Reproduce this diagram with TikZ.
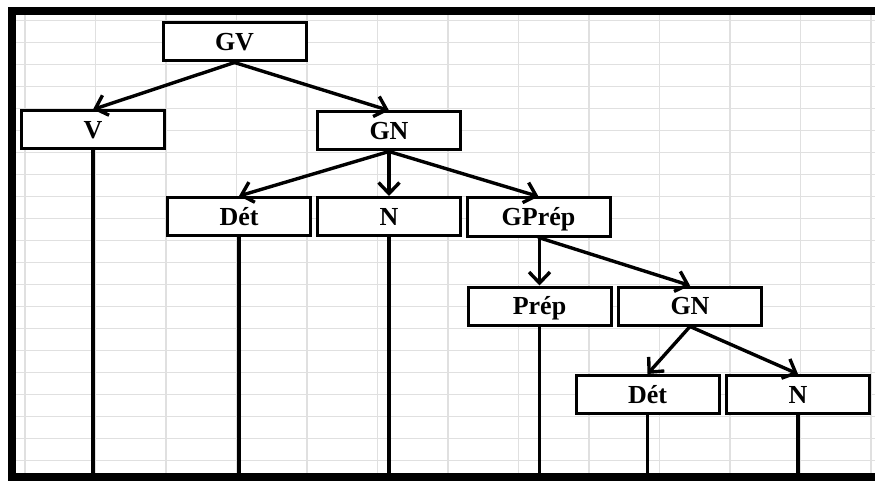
\documentclass[tikz,border=0pt]{standalone}
\usepackage{fontspec}
\setmainfont{Liberation Serif}
\usetikzlibrary{arrows.meta}
\definecolor{gridgray}{HTML}{E0E0E0}
\tikzset{
  cell/.style={draw=gridgray, line width=1.3pt},
  frame/.style={line width=8pt, line cap=butt},
  catbox/.style={draw, line width=3pt, fill=white, minimum width=143pt,
    minimum height=38pt, inner sep=0pt, text height=17.5pt, text depth=0pt,
    font=\fontsize{26}{26}\selectfont\bfseries},
  branch/.style={line width=3.4pt, line cap=round,
    -{Straight Barb[length=11pt, width=21pt, line width=3.4pt]}},
  stem/.style={line width=3.6pt},
}
\begin{document}
\begin{tikzpicture}[x=1pt, y=-1pt]
\useasboundingbox (0,0) rectangle (875,481);
% spreadsheet grid
\foreach \gx in {25,95.5,...,872} \draw[cell] (\gx,15) -- (\gx,474);
\foreach \gy in {20.5,42.5,...,461} \draw[cell] (16,\gy) -- (875,\gy);
% outer frame (top, left, bottom)
\draw[frame] (8,11.25) -- (875,11.25);
\draw[frame] (12,7.5) -- (12,481);
\draw[frame] (8,477) -- (875,477);
\coordinate (base) at (0,474);

% category boxes
\node[catbox] (gv)    at (234.5,42)  {GV};
\node[catbox] (v)     at (93,130)    {V};
\node[catbox] (gn)    at (389,131)   {GN};
\node[catbox] (det)   at (239,216.5) {Dét};
\node[catbox] (n)     at (389,216.5) {N};
\node[catbox] (gprep) at (538.5,217) {GPrép};
\node[catbox] (prep)  at (539.5,306) {Prép};
\node[catbox] (gnb)   at (690,306)   {GN};
\node[catbox] (detb)  at (647.5,394.5) {Dét};
\node[catbox] (nb)    at (798,394.5) {N};

% branches
\draw[branch] (gv.south) -- (v.north);
\draw[branch] (gv.south) -- (gn.north);
\draw[branch] (gn.south) -- (det.north);
\draw[branch] (gn.south) -- (n.north);
\draw[branch] (gn.south) -- (gprep.north);
\draw[branch] (gprep.south -| prep.north) -- (prep.north);
\draw[branch] (gprep.south) -- (gnb.north);
\draw[branch] (gnb.south) -- (detb.north);
\draw[branch] (gnb.south) -- (nb.north);

% stems down to the baseline
\foreach \leaf in {v,det,n,prep,detb,nb}
  \draw[stem] (\leaf.south) -- (\leaf.south |- base);
\end{tikzpicture}
\end{document}
